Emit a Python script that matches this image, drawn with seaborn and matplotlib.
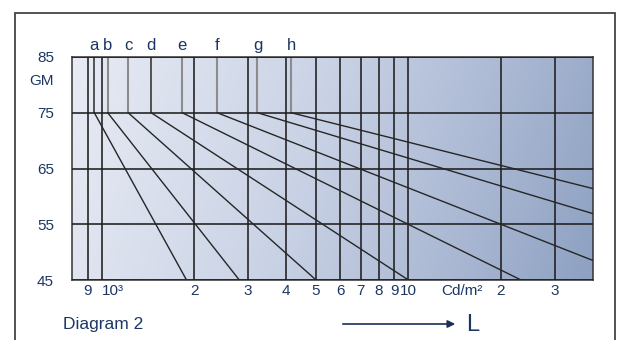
import numpy as np
import pandas as pd
import matplotlib
matplotlib.use("Agg")
import matplotlib.pyplot as plt
import seaborn as sns
from matplotlib.ticker import NullLocator, FixedLocator
from matplotlib.colors import LinearSegmentedColormap
from matplotlib.patches import Rectangle

# ---- data ----
curves = ["a", "b", "c", "d", "e", "f", "g", "h"]
L_start = [946, 1046, 1220, 1450, 1830, 2380, 3220, 4150]      # luminance at GM 75
L_end = [1890, 2810, 5000, 10000, 23300, 40000, 40000, 40000]  # luminance at end point
GM_start = 75
GM_end = [45, 45, 45, 45, 45, 48.5, 56.9, 61.4]

x_ticks = [900, 1000, 2000, 3000, 4000, 5000, 6000, 7000, 8000, 9000, 10000, 20000, 30000]
x_labels = ["9", "10³", "2", "3", "4", "5", "6", "7", "8", "9", "10", "2", "3"]
y_ticks = [45, 55, 65, 75, 85]
y_labels = ["45", "55", "65", "75", "85"]

# ---- style ----
sns.set_style("white")
plt.rcParams["font.family"] = ["Liberation Sans", "DejaVu Sans"]
TXT = "#1c3664"

rows = []
for c, x0, x1, y1 in zip(curves, L_start, L_end, GM_end):
    rows.append({"curve": c, "L": x0, "GM": GM_start})
    rows.append({"curve": c, "L": x1, "GM": y1})
df = pd.DataFrame(rows)

fig = plt.figure(figsize=(6.17, 3.40), dpi=100)
W, H = 617, 340
left, right, top, bottom = 72, 593, 57, 280
pos = [left / W, 1 - bottom / H, (right - left) / W, (bottom - top) / H]

# gradient background
bg = fig.add_axes(pos, zorder=0)
nx, ny = 400, 120
X, Y = np.meshgrid(np.linspace(0, 1, nx), np.linspace(0, 1, ny))
t = 0.88 * X + 0.12 * Y
cmap = LinearSegmentedColormap.from_list(
    "bg", [(0, "#e8ebf4"), (0.45, "#c9d2e5"), (0.75, "#aab8d3"), (1, "#8ea1c2")], N=256)
bg.imshow(t, cmap=cmap, aspect="auto", extent=(0, 1, 0, 1), origin="upper", vmin=0, vmax=1)
bg.set_axis_off()

ax = fig.add_axes(pos, zorder=1)
ax.patch.set_alpha(0)
ax.set_xscale("log")
ax.set_xlim(800, 40000)
ax.set_ylim(45, 85)

sns.lineplot(data=df, x="L", y="GM", units="curve", estimator=None,
             color="#262626", lw=1.0, ax=ax, legend=False, zorder=3)

# letter markers in the top band
for c, x0 in zip(curves, L_start):
    col = "#2a2a2a" if c in ("a", "d") else "#8c8c8c"
    lw = 1.1 if c in ("a", "d") else 1.5
    ax.vlines(x0, 75, 85, color=col, lw=lw, zorder=2)
    ax.text(x0, 1.02, c, transform=ax.get_xaxis_transform(), ha="center", va="bottom",
            fontsize=12, color=TXT)

ax.xaxis.set_major_locator(FixedLocator(x_ticks))
ax.xaxis.set_minor_locator(NullLocator())
ax.set_xticklabels(x_labels)
ax.set_yticks(y_ticks)
ax.set_yticklabels(y_labels)
ax.tick_params(axis="x", length=0, pad=3, labelsize=11, labelcolor=TXT)
ax.tick_params(axis="y", length=0, pad=13, labelsize=11, labelcolor=TXT)
for lab in ax.get_yticklabels():
    lab.set_horizontalalignment("right")
xl = ax.get_xticklabels()
xl[1].set_horizontalalignment("left")
xl[1].set_x(1000)
ax.grid(True, which="major", color="#1e1e1e", lw=1.15, zorder=2)
ax.set_axisbelow(False)
for s in ax.spines.values():
    s.set_color("#333333")
    s.set_linewidth(1.1)
ax.set_xlabel("")
ax.set_ylabel("")

ax.text(-18 / (right - left), 80.7, "GM", transform=ax.get_yaxis_transform(),
        ha="right", va="center", fontsize=11, color=TXT)
ax.annotate("Cd/m²", xy=(14950, 45), xycoords="data", xytext=(0, -3),
            textcoords="offset points", ha="center", va="top", fontsize=11,
            color=TXT, annotation_clip=False)

# outer frame
fig.add_artist(Rectangle((14.5 / W, -0.1), (615 - 14.5) / W, 1 - 13 / H + 0.1,
                         transform=fig.transFigure, fill=False, ec="#444444", lw=1.3))

fig.text(63 / W, 1 - 325 / H, "Diagram 2", ha="left", va="center", fontsize=12.5, color=TXT)
ax.annotate("", xy=(458, H - 324), xytext=(340, H - 324), xycoords="figure pixels",
            textcoords="figure pixels",
            arrowprops=dict(arrowstyle="-|>", color="#1a2f5a", lw=1.2, mutation_scale=11))
fig.text(466 / W, 1 - 325 / H, "L", ha="left", va="center", fontsize=17, color=TXT)

fig.savefig("out.png", dpi=100)
